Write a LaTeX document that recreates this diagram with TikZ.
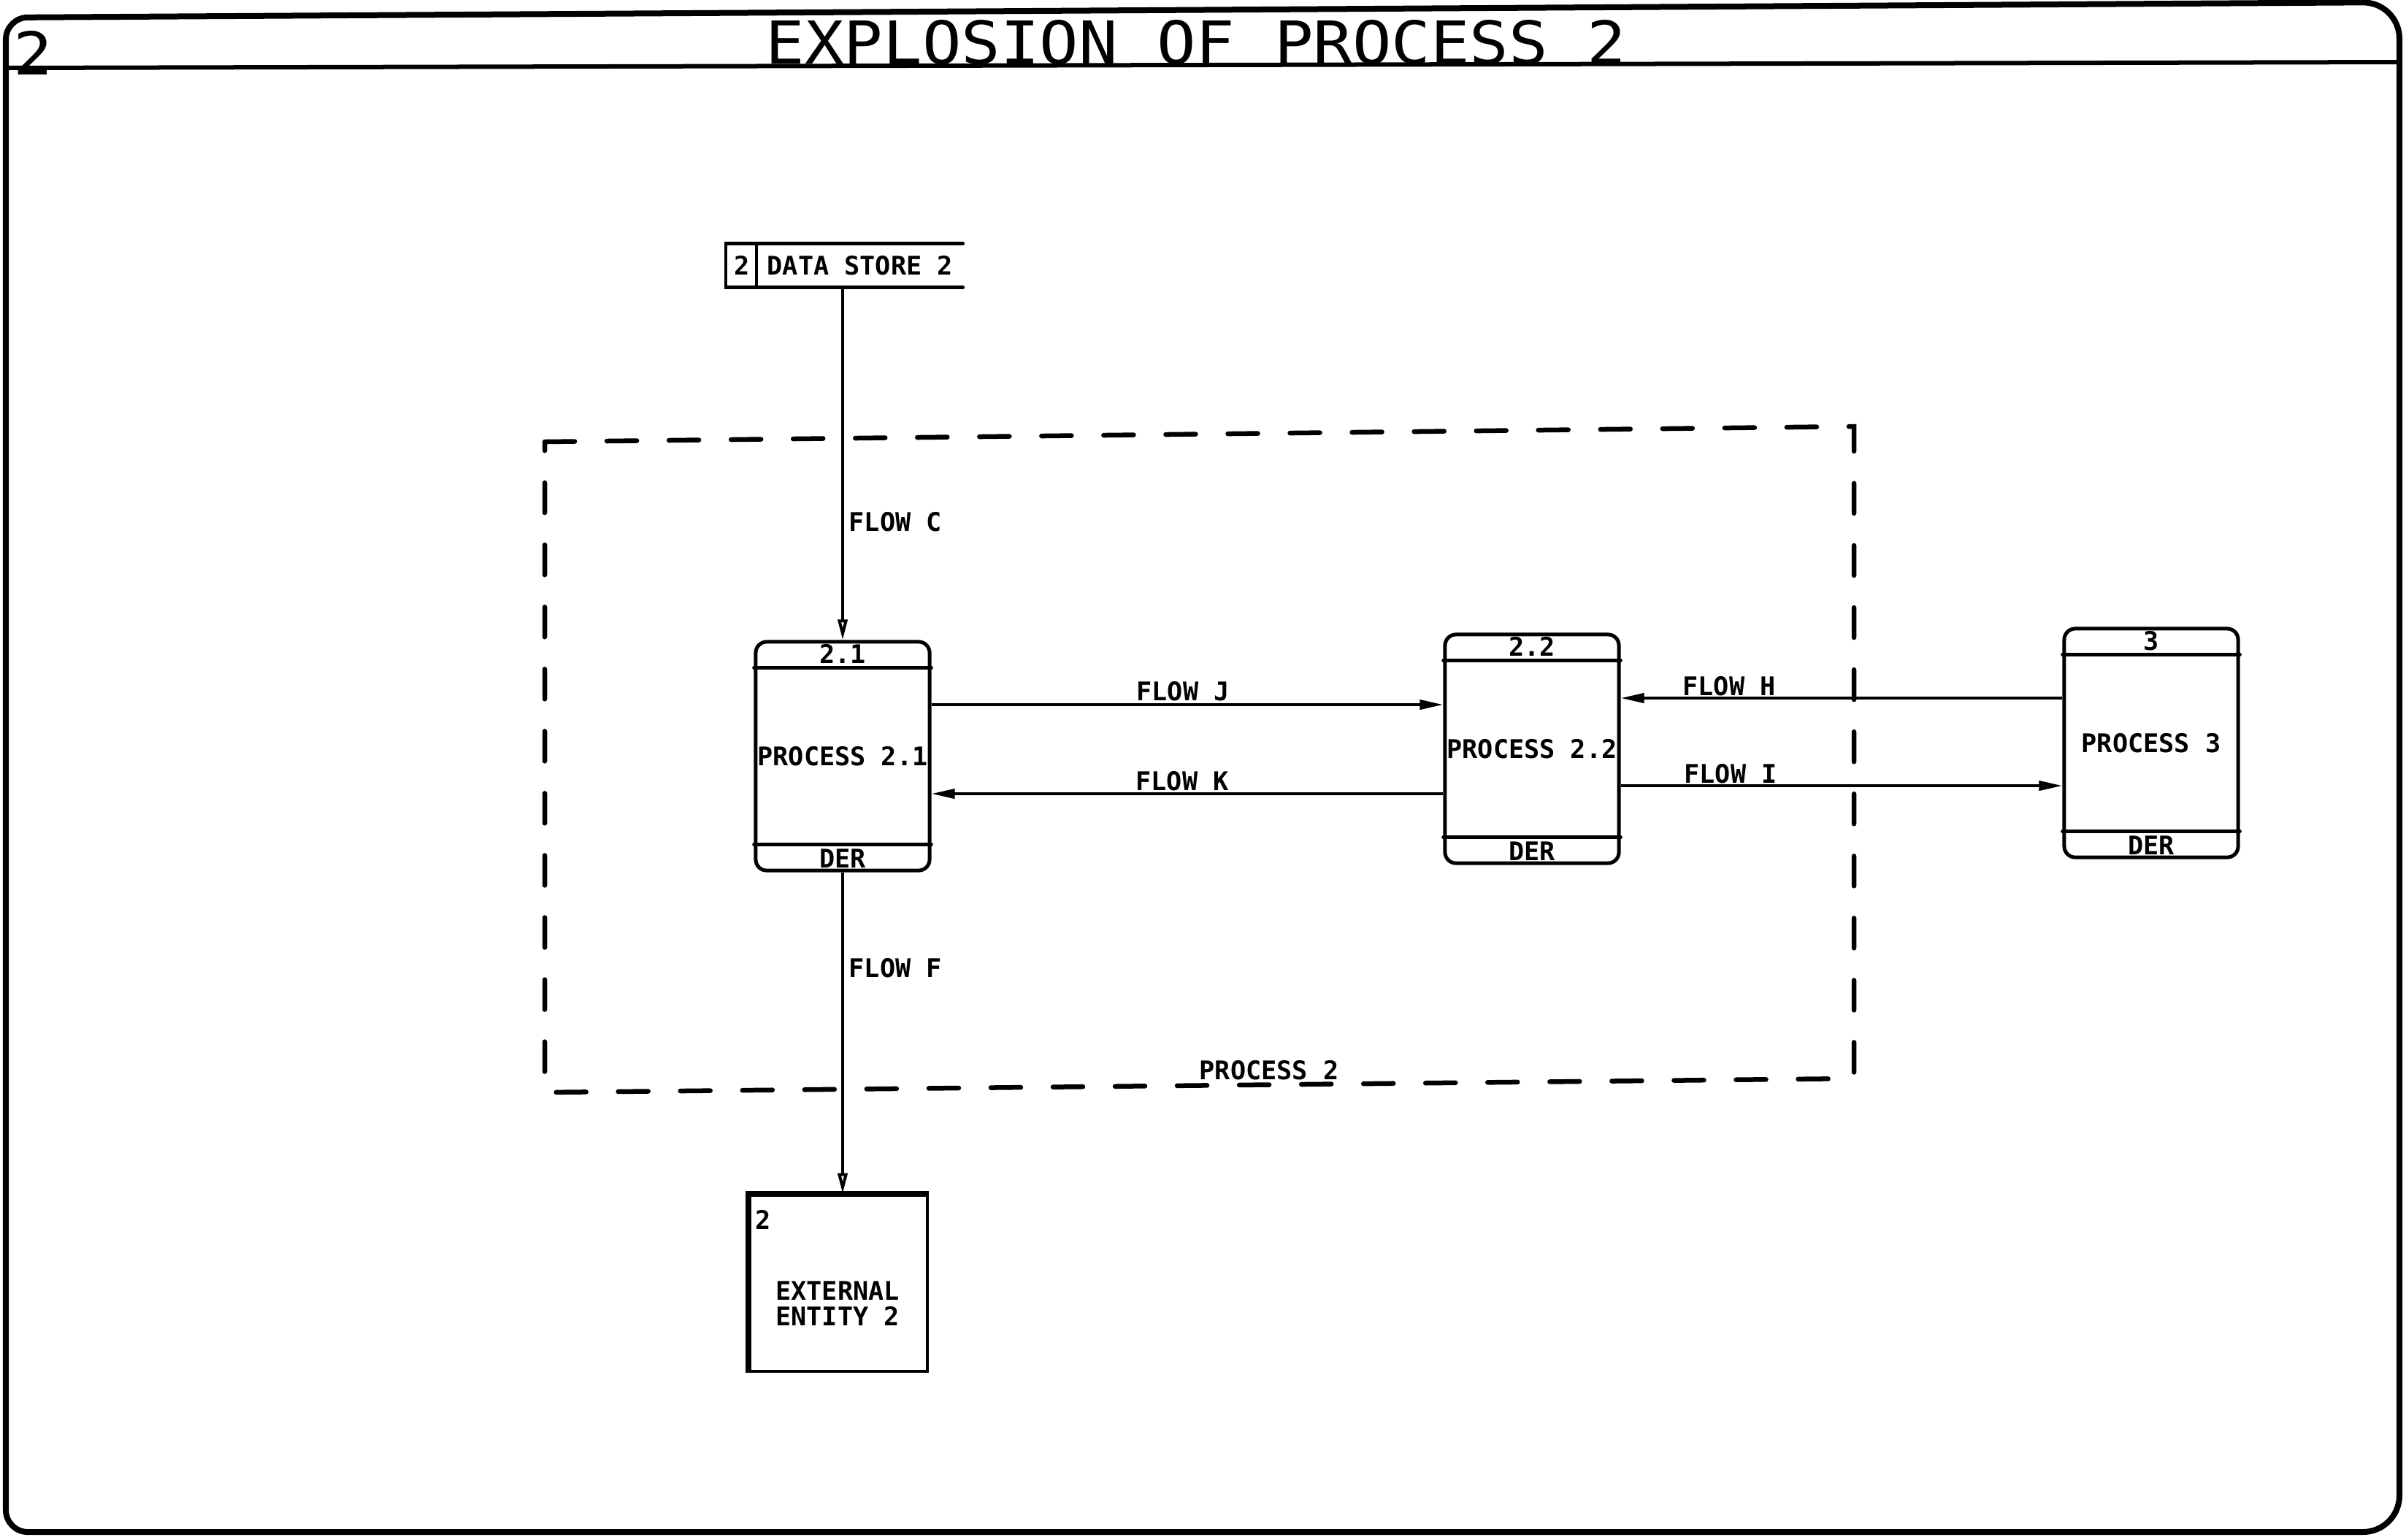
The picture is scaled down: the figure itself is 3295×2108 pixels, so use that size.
\documentclass[tikz,border=0pt]{standalone}
\usepackage{fontspec}
\usetikzlibrary{arrows.meta,calc}
\newfontfamily\pfont{DejaVu Sans Mono}
\begin{document}
\begin{tikzpicture}[x=0.01cm,y=-0.01cm,
  lbl/.style={font=\pfont\bfseries\fontsize{10}{10}\selectfont, inner sep=0pt},
  ttl/.style={font=\pfont\fontsize{23}{25}\selectfont, inner sep=0pt, xscale=1.1},
  procbox/.style={draw, line width=0.05cm, rounded corners=0.15cm, minimum width=2.38cm, minimum height=3.13cm, inner sep=0pt},
  div/.style={line width=0.045cm, line cap=round},
  flow/.style={line width=0.04cm},
  harrow/.style={flow, -{Triangle[length=0.32cm,width=0.13cm]}},
  varrow/.style={flow, -{Triangle[open,length=0.28cm,width=0.13cm]}},
  bound/.style={line width=0.065cm, line cap=round, dash pattern=on 0.41cm off 0.44cm},
  frame/.style={line width=0.08cm}]

\fill[white] (0,0) rectangle (3295,2108);
\useasboundingbox (0,0) rectangle (3295,2108);

% outer frame and title band
\draw[frame, rounded corners=0.3cm] (1600,2098) -- (8,2098) -- (8,24) [rounded corners=0.5cm] -- (3286,3) -- (3286,2098) -- (1600,2098);
\draw[line width=0.06cm] (8,93) -- (3286,85);
\node[ttl] (title) at (1638,58) {EXPLOSION OF PROCESS 2};
\node[ttl] (pgnum) at (45,72) {2};

% data store
\node[minimum width=3.23cm, minimum height=0.59cm, inner sep=0pt] (ds) at (1156.5,363.5) {};
\draw[div] (ds.north east) -- (ds.north west) -- (ds.south west) -- (ds.south east);
\draw[div] ($(ds.north west)+(42,0)$) -- ($(ds.south west)+(42,0)$);
\node[lbl] (dsid) at (1016,363.5) {2};
\node[lbl, anchor=west] (dsname) at (1050,363.5) {DATA STORE 2};

% processes
\node[procbox] (p21) at (1154,1035.5) {};
\node[procbox] (p22) at (2098,1025.5) {};
\node[procbox] (p3) at (2946,1017.5) {};
\foreach \p in {p21,p22,p3}{
  \draw[div] ($(\p.north west)+(0,38)$) -- ($(\p.north east)+(0,38)$);
  \draw[div] ($(\p.south west)+(0,-38)$) -- ($(\p.south east)+(0,-38)$);
}
\node[lbl] (p21id) at ($(p21.north)+(0,19)$) {2.1};
\node[lbl] (p21name) at (p21) {PROCESS 2.1};
\node[lbl] (p21der) at ($(p21.south)+(0,-19)$) {DER};
\node[lbl] (p22id) at ($(p22.north)+(0,19)$) {2.2};
\node[lbl] (p22name) at (p22) {PROCESS 2.2};
\node[lbl] (p22der) at ($(p22.south)+(0,-19)$) {DER};
\node[lbl] (p3id) at ($(p3.north)+(0,19)$) {3};
\node[lbl] (p3name) at (p3) {PROCESS 3};
\node[lbl] (p3der) at ($(p3.south)+(0,-19)$) {DER};

% external entity
\node[draw, line width=0.045cm, minimum width=2.43cm, minimum height=2.41cm, inner sep=0pt] (ee) at (1148.5,1757.5) {};
\draw[line width=0.075cm] (ee.south west) -- (ee.north west) -- (ee.north east);
\node[lbl] (eeid) at (1045,1670) {2};
\node[lbl, align=center] (eename) at (1147,1785) {EXTERNAL\\ENTITY 2};

% flow levels
\coordinate (yJ) at (0,965);
\coordinate (yK) at (0,1087);
\coordinate (yH) at (0,956);
\coordinate (yI) at (0,1076);

% flows
\draw[varrow] (ds.south -| p21.north) -- (p21.north);
\node[lbl, anchor=west] (fc) at (1162,715) {FLOW C};
\draw[varrow] (p21.south) -- (ee.north -| p21.south);
\node[lbl, anchor=west] (ff) at (1162,1326) {FLOW F};
\draw[harrow] (p21.east |- yJ) -- (p22.west |- yJ);
\node[lbl] (fj) at (1620,947) {FLOW J};
\draw[harrow] (p22.west |- yK) -- (p21.east |- yK);
\node[lbl] (fk) at (1619,1070) {FLOW K};
\draw[harrow] (p3.west |- yH) -- (p22.east |- yH);
\node[lbl] (fh) at (2368,940) {FLOW H};
\draw[harrow] (p22.east |- yI) -- (p3.west |- yI);
\node[lbl] (fi) at (2370,1060) {FLOW I};

% process 2 boundary
\draw[bound] (746,605) -- (2539,584) -- (2539,1477) -- (746,1496) -- cycle;
\node[lbl, anchor=south] (bname) at (1738,1480) {PROCESS 2};
\end{tikzpicture}
\end{document}
